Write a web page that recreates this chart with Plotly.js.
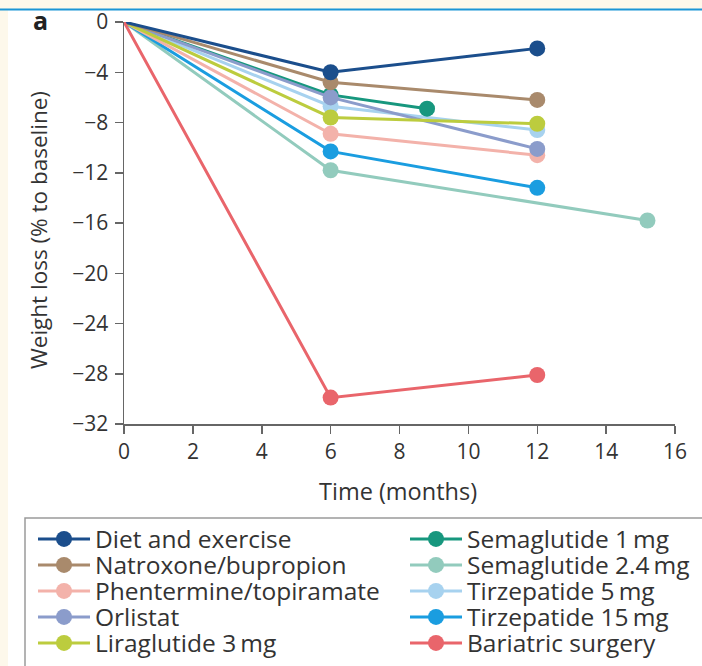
<!DOCTYPE html>
<html><head><meta charset="utf-8">
<script src="https://cdn.plot.ly/plotly-3.0.1.min.js"></script>
<style>html,body{margin:0;padding:0;background:#fff;} #chart{width:702px;height:666px;}</style>
</head><body><div id="chart"></div>
<script>
// ---- data ----
const seriesNames = ["Diet and exercise", "Natroxone/bupropion", "Phentermine/topiramate", "Orlistat", "Liraglutide 3\u2009mg",
                     "Semaglutide 1\u2009mg", "Semaglutide 2.4\u2009mg", "Tirzepatide 5\u2009mg", "Tirzepatide 15\u2009mg", "Bariatric surgery"];
const timeStandard = [0, 6, 12];
const timeSema1 = [0, 6, 8.8];
const timeSema24 = [0, 6, 15.2];
const dietExercise = [0, -4.0, -2.1];
const naltrexoneBupropion = [0, -4.8, -6.2];
const phentermineTopiramate = [0, -8.9, -10.6];
const orlistat = [0, -6.0, -10.1];
const liraglutide3 = [0, -7.6, -8.1];
const semaglutide1 = [0, -5.8, -6.9];
const semaglutide24 = [0, -11.8, -15.8];
const tirzepatide5 = [0, -6.7, -8.6];
const tirzepatide15 = [0, -10.3, -13.2];
const bariatricSurgery = [0, -29.9, -28.1];
const xTicks = [0, 2, 4, 6, 8, 10, 12, 14, 16];
const yTicks = [0, -4, -8, -12, -16, -20, -24, -28, -32];
const xTitle = "Time (months)";
const yTitle = "Weight loss (% to baseline)";
const panelLabel = "a";

// ---- styling ----
const colors = ["#1b4e8c", "#a98a6c", "#f3b2aa", "#8b9ccb", "#bccc3e",
                "#17977e", "#92cbbd", "#a7d2ef", "#1a9de0", "#e9656b"];
const seriesData = [
  [timeStandard, dietExercise], [timeStandard, naltrexoneBupropion], [timeStandard, phentermineTopiramate],
  [timeStandard, orlistat], [timeStandard, liraglutide3], [timeSema1, semaglutide1], [timeSema24, semaglutide24],
  [timeStandard, tirzepatide5], [timeStandard, tirzepatide15], [timeStandard, bariatricSurgery]
];
// drawing order (bottom -> top)
const drawOrder = [6, 8, 2, 7, 5, 3, 4, 1, 0, 9];

const W = 702, H = 666;
const M = {l: 124, r: 27, t: 22, b: 242};
const PW = W - M.l - M.r, PH = H - M.t - M.b;
const px = p => (p - M.l) / PW;
const py = p => (H - M.b - p) / PH;
const FONT = "'Open Sans', 'Noto Sans', sans-serif";

const traces = drawOrder.map(i => {
  const xs = seriesData[i][0].slice().reverse();
  const ys = seriesData[i][1].slice().reverse();
  const mc = xs.map(x => x === 0 ? "rgba(0,0,0,0)" : colors[i]);
  return {
    type: "scatter", mode: "lines+markers", name: seriesNames[i],
    x: xs, y: ys,
    line: {color: colors[i], width: 3},
    marker: {color: mc, size: 16, line: {width: 0}},
    cliponaxis: false, showlegend: true,
    legend: i === 0 ? "legend" : "legend" + (i + 1),
    hoverinfo: "skip"
  };
});

const layout = {
  width: W, height: H, showlegend: true,
  margin: {l: M.l, r: M.r, t: M.t, b: M.b, autoexpand: false},
  paper_bgcolor: "#ffffff", plot_bgcolor: "#ffffff",
  font: {family: FONT, color: "#333333"},
  xaxis: {
    range: [0, 16], tickvals: xTicks, ticks: "outside", ticklen: 8, tickwidth: 1.5, tickcolor: "#666",
    showline: true, linecolor: "#666", linewidth: 1.5, showgrid: false, zeroline: false,
    tickfont: {family: FONT, size: 21, color: "#333"}
  },
  yaxis: {
    range: [-32, 0], tickvals: yTicks, ticks: "outside", ticklen: 8, tickwidth: 1.5, tickcolor: "#666",
    showline: true, linecolor: "#666", linewidth: 1.5, showgrid: false, zeroline: false,
    ticklabelstandoff: 2,
    tickfont: {family: FONT, size: 21, color: "#333"}
  },
  shapes: [
    {type: "rect", xref: "paper", yref: "paper", x0: px(0), x1: px(W), y0: py(0), y1: py(9), fillcolor: "#fdf8eb", line: {width: 0}, layer: "below"},
    {type: "rect", xref: "paper", yref: "paper", x0: px(0), x1: px(8), y0: py(9), y1: py(H), fillcolor: "#fdf8eb", line: {width: 0}, layer: "below"},
    {type: "line", xref: "paper", yref: "paper", x0: px(0), x1: px(W), y0: py(9.5), y1: py(9.5), line: {color: "#1b95d6", width: 2}},
    {type: "rect", xref: "paper", yref: "paper", x0: px(25), x1: px(W + 20), y0: py(518), y1: py(H + 20), fillcolor: "rgba(0,0,0,0)", line: {color: "#9a9a9a", width: 1.5}}
  ],
  annotations: [
    {text: "<b>" + panelLabel + "</b>", xref: "paper", yref: "paper", x: px(40), y: py(20), showarrow: false, xanchor: "center", yanchor: "middle",
     font: {family: FONT, size: 25, color: "#222"}},
    {text: yTitle, xref: "paper", yref: "paper", x: px(38), y: py(230), showarrow: false, xanchor: "center", yanchor: "middle",
     textangle: -90, font: {family: FONT, size: 22.5, color: "#333"}},
    {text: xTitle, xref: "paper", yref: "paper", x: px(398), y: py(491), showarrow: false, xanchor: "center", yanchor: "middle",
     font: {family: FONT, size: 23.5, color: "#333"}}
  ]
};

for (let i = 0; i < 10; i++) {
  const key = i === 0 ? "legend" : "legend" + (i + 1);
  const col = i < 5 ? 0 : 1, row = i % 5;
  layout[key] = {
    xref: "container", yref: "container",
    x: (33 + col * 372) / W, y: 1 - (516.5 + row * 26) / H,
    xanchor: "left", yanchor: "top", visible: true,
    bgcolor: "rgba(0,0,0,0)", borderwidth: 0, itemwidth: 52,
    font: {family: FONT, size: 24.5, color: "#333"},
    itemclick: false, itemdoubleclick: false
  };
}

Plotly.newPlot("chart", traces, layout, {displayModeBar: false, staticPlot: true});
</script>
</body></html>
